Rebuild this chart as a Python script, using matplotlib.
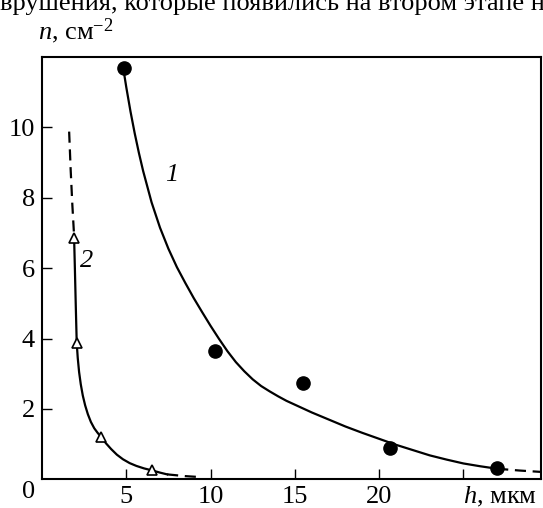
import matplotlib
matplotlib.use("Agg")
import matplotlib.pyplot as plt

plt.rcParams['font.family'] = ['Liberation Serif', 'DejaVu Serif']
plt.rcParams['mathtext.fontset'] = 'custom'
plt.rcParams['mathtext.rm'] = 'Liberation Serif'
plt.rcParams['mathtext.it'] = 'Liberation Serif:italic'

# measured points, series 1 (filled circles) and series 2 (open triangles)
h1 = [4.85, 10.25, 15.5, 20.65, 27.0]
n1 = [11.68, 3.64, 2.73, 0.88, 0.31]
h2 = [1.92, 2.08, 3.51, 6.55]
n2 = [6.85, 3.87, 1.21, 0.27]

# traced fit curves
curve1_h = [4.82, 5.0, 5.25, 5.5, 5.75, 6.0, 6.5, 7.0, 7.5, 8.0, 8.5, 9.0, 9.5,
            10.0, 10.5, 11.0, 11.5, 12.0, 12.5, 13.0, 13.5, 14.0, 14.5, 15.0,
            16, 17, 18, 19, 20, 21, 22, 23, 24, 25, 26, 27]
curve1_n = [11.68, 11.14, 10.45, 9.83, 9.27, 8.76, 7.87, 7.15, 6.55, 6.03, 5.58, 5.15, 4.75,
            4.36, 3.99, 3.64, 3.33, 3.07, 2.84, 2.65, 2.50, 2.36, 2.23, 2.12,
            1.90, 1.70, 1.50, 1.32, 1.15, 0.98, 0.83, 0.68, 0.56, 0.45, 0.37, 0.30]
curve1_tail_h = [27.0, 28.3, 29.6]
curve1_tail_n = [0.30, 0.25, 0.21]

curve2_head_h = [1.61, 1.70, 1.80, 1.90]
curve2_head_n = [9.88, 8.8, 7.8, 6.95]
curve2_h = [1.90, 1.95, 2.00, 2.06, 2.12, 2.20, 2.30, 2.42, 2.56, 2.72, 2.90, 3.10,
            3.30, 3.51, 3.80, 4.10, 4.44, 4.80, 5.20, 5.60, 6.05, 6.55, 7.00, 7.42]
curve2_n = [6.95, 6.00, 5.00, 3.87, 3.45, 3.05, 2.70, 2.38, 2.10, 1.85, 1.63, 1.45,
            1.32, 1.20, 1.02, 0.86, 0.70, 0.57, 0.46, 0.38, 0.31, 0.25, 0.19, 0.14]
curve2_tail_h = [7.42, 8.5, 9.5]
curve2_tail_n = [0.14, 0.09, 0.06]

x_ticks = [5, 10, 15, 20, 25]
x_labels = ['5', '10', '15', '20', '']
y_ticks = [2, 4, 6, 8, 10]

W, H = 543, 508
FS = 19
fig = plt.figure(figsize=(W / 100, H / 100), dpi=100)
ax = fig.add_axes([42 / W, 1 - 479.3 / H, (541 - 42) / W, (479.3 - 57) / H])

lw = 1.6
dash = (0, (5, 3))
ax.plot(curve1_h, curve1_n, color='black', lw=lw)
ax.plot(curve1_tail_h, curve1_tail_n, color='black', lw=lw, ls=dash)
ax.plot(curve2_head_h, curve2_head_n, color='black', lw=lw, ls=dash)
ax.plot(curve2_h, curve2_n, color='black', lw=lw)
ax.plot(curve2_tail_h, curve2_tail_n, color='black', lw=lw, ls=dash)

ax.plot(h1, n1, 'o', color='black', ms=9.5, zorder=3)
ax.plot(h2, n2, '^', mfc='white', mec='black', mew=1.2, ms=6.5, zorder=3)

ax.text(7.72, 8.66, '1', style='italic', fontsize=FS, ha='center', va='center')
ax.text(2.62, 6.21, '2', style='italic', fontsize=FS, ha='center', va='center')

ax.set_xlim(0, 29.6)
ax.set_ylim(0, 12)
ax.set_xticks(x_ticks, x_labels)
ax.set_yticks(y_ticks)
ax.tick_params(direction='in', length=7, width=1.0, labelsize=FS, pad=5)
for s in ax.spines.values():
    s.set_linewidth(1.5)

fig.text(463 / W, 1 - 503 / H, '$h$, мкм', fontsize=FS, ha='left', va='baseline')
fig.text(29 / W, 1 - 492 / H, '0', fontsize=FS, ha='center', va='center')
fig.text(38 / W, 1 - 39 / H, '$n$, см$^{-2}$', fontsize=FS, ha='left', va='baseline')
# line of running text above the figure, cut off by the crop in the source
fig.text(0, 1 - 10 / H, 'врушения, которые появились на втором этапе н',
         fontsize=FS, ha='left', va='baseline')

fig.savefig('out.png', dpi=100)
